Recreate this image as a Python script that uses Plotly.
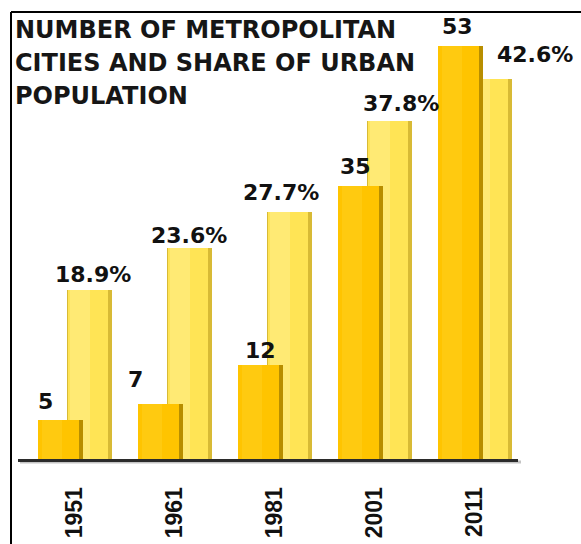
import plotly.graph_objects as go

# Census years and the two series
years = ["1951", "1961", "1981", "2001", "2011"]
metro_cities = [5, 7, 12, 35, 53]            # number of metropolitan cities
urban_share = [18.9, 23.6, 27.7, 37.8, 42.6]  # share of urban population, %

title_lines = ["NUMBER OF METROPOLITAN", "CITIES AND SHARE OF URBAN", "POPULATION"]

# label placement (pixel nudges from category centre / gap above bar top)
city_label_dx = [-30, -40, -15, -20, -18]
city_label_gap = [4, 10, 0, 5, 5]
share_label_dx = [18, 14, 6, 26, 60]
share_label_gap = [1, -2, 5, 3, 10]

W, H = 581, 544
L, R, T, B = 18, 63, 39, 85
plot_w, plot_h = W - L - R, H - T - B

VAL_FONT = dict(family="DejaVu Sans", size=22, color="#111111", weight="bold")

idx = list(range(len(years)))

fig = go.Figure()

# light bars (urban share) drawn first, behind: edge layer + face layer + sheen
fig.add_trace(go.Bar(x=idx, y=urban_share, offset=-0.08, width=0.45,
                     marker=dict(color="#D8BA35", line=dict(width=0)),
                     yaxis="y", hoverinfo="skip", showlegend=False))
fig.add_trace(go.Bar(x=idx, y=urban_share, offset=-0.075, width=0.405,
                     marker=dict(color="#FFE455", line=dict(width=0)),
                     yaxis="y", showlegend=False, name="Urban share (%)"))
fig.add_trace(go.Bar(x=idx, y=urban_share, offset=-0.05, width=0.2,
                     marker=dict(color="#FFEA74", line=dict(width=0)),
                     yaxis="y", hoverinfo="skip", showlegend=False))

# gold bars (metropolitan cities) in front
fig.add_trace(go.Bar(x=idx, y=metro_cities, offset=-0.375, width=0.45,
                     marker=dict(color="#B88E00", line=dict(width=0)),
                     yaxis="y2", hoverinfo="skip", showlegend=False))
fig.add_trace(go.Bar(x=idx, y=metro_cities, offset=-0.368, width=0.41,
                     marker=dict(color="#FFC400", line=dict(width=0)),
                     yaxis="y2", showlegend=False, name="Metropolitan cities"))
fig.add_trace(go.Bar(x=idx, y=metro_cities, offset=-0.33, width=0.2,
                     marker=dict(color="#FFCA10", line=dict(width=0)),
                     yaxis="y2", hoverinfo="skip", showlegend=False))

annotations = []
for i, v, dx, g in zip(idx, metro_cities, city_label_dx, city_label_gap):
    annotations.append(dict(x=i, y=v, xref="x", yref="y2", text=f"{v}",
                            showarrow=False, xanchor="center", yanchor="bottom",
                            xshift=dx, yshift=g, font=VAL_FONT))
for i, v, dx, g in zip(idx, urban_share, share_label_dx, share_label_gap):
    annotations.append(dict(x=i, y=v, xref="x", yref="y", text=f"{v}%",
                            showarrow=False, xanchor="center", yanchor="bottom",
                            xshift=dx, yshift=g, font=VAL_FONT))

def px_x(p):
    return (p - L) / plot_w

def px_y(p):
    return (H - B - p) / plot_h

# title, one line per annotation for a 33 px line pitch
for k, line in enumerate(title_lines):
    annotations.append(dict(x=px_x(13), y=px_y(14 + 33 * k),
                            xref="paper", yref="paper", xanchor="left", yanchor="top",
                            align="left", showarrow=False, text=line,
                            font=dict(family="DejaVu Sans", size=24, color="#161616",
                                      weight="bold")))

shapes = [
    # frame on top and left
    dict(type="line", xref="paper", yref="paper", x0=px_x(11), x1=px_x(11),
         y0=px_y(H), y1=px_y(12), line=dict(color="#000000", width=2)),
    dict(type="line", xref="paper", yref="paper", x0=px_x(11), x1=px_x(W),
         y0=px_y(12), y1=px_y(12), line=dict(color="#000000", width=2)),
    # soft shadow under the baseline
    dict(type="line", xref="paper", yref="paper", x0=px_x(20), x1=px_x(521),
         y0=px_y(H - B + 3), y1=px_y(H - B + 3),
         line=dict(color="#8a8a8a", width=3), opacity=0.5, layer="below"),
]

fig.update_layout(
    width=W, height=H,
    margin=dict(l=L, r=R, t=T, b=B),
    paper_bgcolor="#ffffff", plot_bgcolor="#ffffff",
    barmode="overlay", bargap=0,
    xaxis=dict(tickmode="array", tickvals=idx, ticktext=years,
               range=[-0.57, 4.43], showline=True, linecolor="#2b2b2b",
               linewidth=3, ticks="", tickangle=-90, ticklabelstandoff=16,
               tickfont=dict(family="Liberation Sans", size=23, color="#111111",
                             weight="bold"),
               showgrid=False, zeroline=False, fixedrange=True, automargin=False),
    yaxis=dict(range=[0, plot_h / 8.93], visible=False, showgrid=False,
               zeroline=False, fixedrange=True, automargin=False),
    yaxis2=dict(range=[0, plot_h / 7.8], overlaying="y", visible=False,
                showgrid=False, zeroline=False, fixedrange=True, automargin=False),
    annotations=annotations,
    shapes=shapes,
    showlegend=False,
)

fig.write_html("out.html")
